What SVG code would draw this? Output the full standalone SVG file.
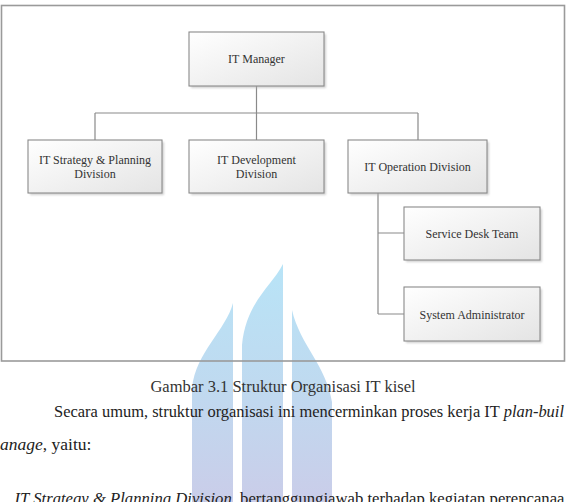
<svg xmlns="http://www.w3.org/2000/svg" width="567" height="502" viewBox="0 0 567 502">
<defs>
<linearGradient id="boxg" x1="0" y1="0" x2="1" y2="1">
<stop offset="0" stop-color="#ffffff"/>
<stop offset="1" stop-color="#e4e4e4"/>
</linearGradient>
<linearGradient id="wm" gradientUnits="userSpaceOnUse" x1="0" y1="262" x2="0" y2="502">
<stop offset="0" stop-color="#b8e4f7"/>
<stop offset="0.5" stop-color="#bfdaf0"/>
<stop offset="1" stop-color="#cacde9"/>
</linearGradient>
<filter id="sh" x="-10%" y="-10%" width="130%" height="130%">
<feGaussianBlur stdDeviation="1"/>
</filter>
</defs>
<style>
.box{fill:url(#boxg);stroke:#8a8a8a;stroke-width:1.1}
.shadow{fill:#b0b0b0;opacity:0.6}
.lbl{font-family:"Liberation Serif","Times New Roman",serif;font-size:12px;fill:#333;text-anchor:middle}
.conn{fill:none;stroke:#8a8a8a;stroke-width:1.2}
.cap{font-family:"Liberation Serif","Times New Roman",serif;font-size:16.5px;fill:#333;text-anchor:middle}
.body{font-family:"Liberation Serif","Times New Roman",serif;font-size:17.5px;fill:#222}
.it{font-style:italic}
</style>
<rect width="567" height="502" fill="#ffffff"/>
<g id="watermark" fill="url(#wm)">
<path d="M233,303 C226,330 196,352 192,388 L192,510 L233,510 Z"/>
<path d="M283,264 C272,286 246,302 242,345 L242,510 L283,510 Z"/>
<path d="M292,310 C300,345 326,365 332,402 L332,510 L292,510 Z"/>
</g>
<rect id="frame" x="1.5" y="5.5" width="563" height="355.5" fill="none" stroke="#9a9a9a" stroke-width="1.6"/>
<g id="connectors">
<path class="conn" d="M256.5,86 V113 M95,113 H418 M95,113 V140 M256.5,113 V140 M418,113 V140"/>
<path class="conn" d="M378,193 V314 M378,233 H404 M378,314 H404"/>
</g>
<g id="it-manager">
<rect class="shadow" x="191" y="34" width="135" height="54" filter="url(#sh)"/>
<rect class="box" x="189" y="32" width="135" height="54"/>
<text class="lbl" x="256.5" y="63">IT Manager</text>
</g>
<g id="it-strategy">
<rect class="shadow" x="30" y="142" width="134" height="53" filter="url(#sh)"/>
<rect class="box" x="28" y="140" width="134" height="53"/>
<text class="lbl" x="95" y="163.5">IT Strategy &amp; Planning</text>
<text class="lbl" x="95" y="178">Division</text>
</g>
<g id="it-development">
<rect class="shadow" x="191" y="142" width="135" height="53" filter="url(#sh)"/>
<rect class="box" x="189" y="140" width="135" height="53"/>
<text class="lbl" x="256.5" y="163.5">IT Development</text>
<text class="lbl" x="256.5" y="178">Division</text>
</g>
<g id="it-operation">
<rect class="shadow" x="350" y="142" width="139" height="53" filter="url(#sh)"/>
<rect class="box" x="348" y="140" width="139" height="53"/>
<text class="lbl" x="417.5" y="170.5">IT Operation Division</text>
</g>
<g id="service-desk">
<rect class="shadow" x="406" y="209" width="136" height="53" filter="url(#sh)"/>
<rect class="box" x="404" y="207" width="136" height="53"/>
<text class="lbl" x="472" y="237.5">Service Desk Team</text>
</g>
<g id="system-admin">
<rect class="shadow" x="406" y="289" width="136" height="54" filter="url(#sh)"/>
<rect class="box" x="404" y="287" width="136" height="54"/>
<text class="lbl" x="472" y="318.5">System Administrator</text>
</g>
<text class="cap" x="283" y="392">Gambar 3.1 Struktur Organisasi IT kisel</text>
<text class="body" x="54" y="417" textLength="510" lengthAdjust="spacingAndGlyphs">Secara umum, struktur organisasi ini mencerminkan proses kerja IT <tspan class="it">plan-buil</tspan></text>
<text class="body" x="0" y="450"><tspan class="it">anage</tspan>, yaitu:</text>
<text class="body" x="14.5" y="503.5" textLength="550" lengthAdjust="spacingAndGlyphs"><tspan class="it">IT Strategy &amp; Planning Division</tspan>, bertanggungjawab terhadap kegiatan perencanaa</text>
</svg>
